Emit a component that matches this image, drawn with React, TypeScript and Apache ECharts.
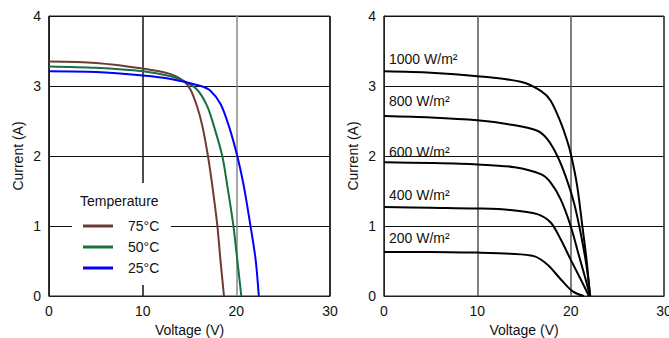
import React, { useEffect, useRef } from "react";
import * as echarts from "echarts";

// Left chart: temperature dependence
const t75V = [0, 5, 10, 13.0, 14.4, 15.1, 15.8, 16.37, 16.97, 17.44, 17.97, 18.3, 18.68];
const t75I = [3.35, 3.33, 3.25, 3.17, 3.07, 2.95, 2.71, 2.43, 2.0, 1.57, 1.01, 0.52, 0];
const t50V = [0, 5, 10, 13.0, 14.4, 15.8, 16.9, 17.6, 18.5, 19.04, 19.68, 20.1, 20.53];
const t50I = [3.28, 3.26, 3.21, 3.14, 3.07, 2.95, 2.71, 2.43, 2.0, 1.57, 1.01, 0.52, 0];
const t25V = [0, 5, 10, 13.0, 16.2, 17.26, 18.33, 19.2, 20.1, 20.8, 21.5, 22.06, 22.4];
const t25I = [3.21, 3.2, 3.15, 3.1, 3.0, 2.93, 2.74, 2.43, 2.0, 1.57, 1.01, 0.52, 0];

// Right chart: irradiance dependence
const g1000V = [0, 5, 10, 14.64, 16.8, 17.86, 18.93, 19.64, 20.07, 20.7, 21.25, 21.7, 22.07];
const g1000I = [3.21, 3.19, 3.14, 3.06, 2.93, 2.79, 2.48, 2.21, 2.0, 1.57, 1.0, 0.52, 0];
const g800V = [0, 5, 10, 13.5, 16.43, 17.5, 18.57, 19.46, 20.36, 21.07, 21.7, 22.1];
const g800I = [2.57, 2.55, 2.51, 2.45, 2.36, 2.24, 2.0, 1.71, 1.33, 0.9, 0.43, 0];
const g600V = [0, 5, 10, 14.0, 16.8, 17.86, 18.93, 20.0, 20.9, 21.6, 22.07];
const g600I = [1.91, 1.9, 1.88, 1.84, 1.74, 1.62, 1.38, 1.0, 0.57, 0.24, 0];
const g400V = [0, 5, 10, 13.5, 16.43, 17.86, 18.93, 20.0, 21.07, 21.96];
const g400I = [1.27, 1.26, 1.25, 1.23, 1.17, 1.05, 0.81, 0.52, 0.24, 0];
const g200V = [0, 5, 10, 13.5, 16.07, 17.5, 18.93, 20.18, 21.4];
const g200I = [0.63, 0.63, 0.62, 0.605, 0.57, 0.45, 0.24, 0.07, 0];

const tempNames = ["75°C", "50°C", "25°C"];
const tempColors = ["#6e3a36", "#16703f", "#0000ff"];
const irrNames = ["1000 W/m²", "800 W/m²", "600 W/m²", "400 W/m²", "200 W/m²"];
const xTicks = [0, 10, 20, 30];
const yTicks = [0, 1, 2, 3, 4];

const pairs = (xs: number[], ys: number[]) => xs.map((x, i) => [x, ys[i]]);

export default function App() {
  const ref = useRef<HTMLDivElement>(null);
  useEffect(() => {
    if (!ref.current) return;
    const chart = echarts.init(ref.current, null, { renderer: "svg" });
    const font = "'Liberation Sans', Arial, sans-serif";
    const mkX = (gridIndex: number, vColors: string[], vWidth: number) => ({
      type: "value",
      gridIndex,
      min: xTicks[0],
      max: xTicks[xTicks.length - 1],
      interval: 10,
      name: "Voltage (V)",
      nameLocation: "middle",
      nameGap: 25,
      nameTextStyle: { fontFamily: font, fontSize: 14, color: "#111" },
      axisLine: { show: true, lineStyle: { color: "#222", width: 1 } },
      axisTick: { show: false },
      axisLabel: { fontFamily: font, fontSize: 14, color: "#111", margin: 8 },
      splitLine: { show: true, lineStyle: { color: vColors, width: vWidth } },
    });
    const mkY = (gridIndex: number) => ({
      type: "value",
      gridIndex,
      min: yTicks[0],
      max: yTicks[yTicks.length - 1],
      interval: 1,
      name: "Current (A)",
      nameLocation: "middle",
      nameGap: 24,
      nameTextStyle: { fontFamily: font, fontSize: 14, color: "#111" },
      axisLine: { show: true, lineStyle: { color: "#222", width: 1 } },
      axisTick: { show: false },
      axisLabel: { fontFamily: font, fontSize: 14, color: "#111", margin: 8 },
      splitLine: { show: true, lineStyle: { color: "#111", width: 1 } },
    });
    const tempData = [pairs(t75V, t75I), pairs(t50V, t50I), pairs(t25V, t25I)];
    const irrData = [
      pairs(g1000V, g1000I),
      pairs(g800V, g800I),
      pairs(g600V, g600I),
      pairs(g400V, g400I),
      pairs(g200V, g200I),
    ];
    const labelY = [59, 101, 152, 195, 238];
    chart.setOption({
      animation: false,
      backgroundColor: "#fff",
      grid: [
        { left: 49, right: 339, top: 16, bottom: 42, show: true, borderColor: "#222", borderWidth: 1, backgroundColor: "transparent", containLabel: false, outerBoundsMode: "none" },
        { left: 384, right: 5, top: 16, bottom: 42, show: true, borderColor: "#222", borderWidth: 1, backgroundColor: "transparent", containLabel: false, outerBoundsMode: "none" },
      ],
      xAxis: [mkX(0, ["#111", "#111", "#888", "#111"], 1.5), mkX(1, ["#444", "#555", "#555", "#444"], 1.5)],
      yAxis: [mkY(0), mkY(1)],
      legend: {
        data: tempNames,
        orient: "vertical",
        left: 78,
        top: 213,
        itemWidth: 30,
        itemHeight: 3,
        itemGap: 5,
        icon: "rect",
        z: 10,
        textStyle: { fontFamily: font, fontSize: 14, color: "#111", lineHeight: 16, padding: [0, 0, 0, 10] },
      },
      graphic: [
        { type: "rect", z: 3, shape: { x: 72, y: 183, width: 99, height: 102 }, style: { fill: "#fff" } },
        { type: "text", z: 11, x: 80, y: 201, style: { text: "Temperature", font: `14px ${font}`, fill: "#111", verticalAlign: "middle" } },
        ...irrNames.map((t, i) => ({
          type: "text",
          z: 11,
          x: 389,
          y: labelY[i],
          style: { text: t, font: `14px ${font}`, fill: "#111", verticalAlign: "middle" },
        })),
      ],
      series: [
        ...tempNames.map((n, i) => ({
          name: n,
          type: "line",
          xAxisIndex: 0,
          yAxisIndex: 0,
          data: tempData[i],
          showSymbol: false,
          smooth: 0.3,
          lineStyle: { color: tempColors[i], width: 2 },
          itemStyle: { color: tempColors[i] },
        })),
        ...irrNames.map((n, i) => ({
          name: n,
          type: "line",
          xAxisIndex: 1,
          yAxisIndex: 1,
          data: irrData[i],
          showSymbol: false,
          smooth: 0.3,
          lineStyle: { color: "#000", width: 2 },
          itemStyle: { color: "#000" },
        })),
      ],
    });
    return () => chart.dispose();
  }, []);
  return <div ref={ref} style={{ position: "fixed", left: 0, top: 0, width: 669, height: 338 }} />;
}
